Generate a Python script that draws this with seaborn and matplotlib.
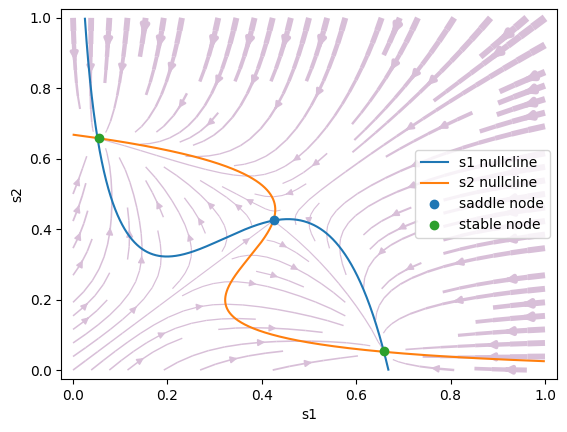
import numpy as np
import matplotlib
matplotlib.use('Agg')
import matplotlib.pyplot as plt
import seaborn as sns

# reduced two-variable decision model (Wong & Wang 2006)
a, b, d = 270.0, 108.0, 0.154
gamma, tau_s = 0.641, 0.1
J_self, J_cross = 0.2609, 0.0497
I_0 = 0.3255
I_stim = 0.0156

# fixed points
saddle_s1 = [0.425]
saddle_s2 = [0.425]
stable_s1 = [0.054, 0.658]
stable_s2 = [0.658, 0.054]


def rate(x):
    y = a * x - b
    y = np.where(np.abs(y) < 1e-9, 1e-9, y)
    return y / (1.0 - np.exp(-d * y))


def ds(s_self, s_other):
    x = J_self * s_self - J_cross * s_other + I_0 + I_stim
    return -s_self / tau_s + (1.0 - s_self) * gamma * rate(x)


def nullcline(s_self):
    # solve ds/dt = 0 for the other variable
    r_needed = s_self / (tau_s * gamma * (1.0 - s_self))
    x_tab = np.linspace(-0.5, 1.5, 200001)
    x = np.interp(r_needed, rate(x_tab), x_tab)
    other = (J_self * s_self + I_0 + I_stim - x) / J_cross
    other[(other < 0) | (other > 1)] = np.nan
    return other


s = np.linspace(0, 1, 200)
S1, S2 = np.meshgrid(s, s)
dS1 = ds(S1, S2)
dS2 = ds(S2, S1)
speed = np.hypot(dS1, dS2)

fig, ax = plt.subplots(figsize=(5.67, 4.32), dpi=100)
fig.subplots_adjust(left=0.108, right=0.982, top=0.979, bottom=0.123)

ax.streamplot(S1, S2, dS1, dS2, color='thistle',
              linewidth=0.7 + 5 * speed / speed.max(), density=0.9)

s_line = np.linspace(0.001, 0.999, 4000)
g = nullcline(s_line)
sns.lineplot(x=s_line, y=g, sort=False, ax=ax, label='s1 nullcline', color='C0')
sns.lineplot(x=g, y=s_line, sort=False, ax=ax, label='s2 nullcline', color='C1')
ax.plot(saddle_s1, saddle_s2, 'o', color='C0', label='saddle node', zorder=5)
ax.plot(stable_s1, stable_s2, 'o', color='C2', label='stable node', zorder=5)

ax.set_xlim(-0.025, 1.025)
ax.set_ylim(-0.025, 1.025)
ax.set_xlabel('s1')
ax.set_ylabel('s2')
ax.legend(loc='center right')

fig.savefig('out.png')
